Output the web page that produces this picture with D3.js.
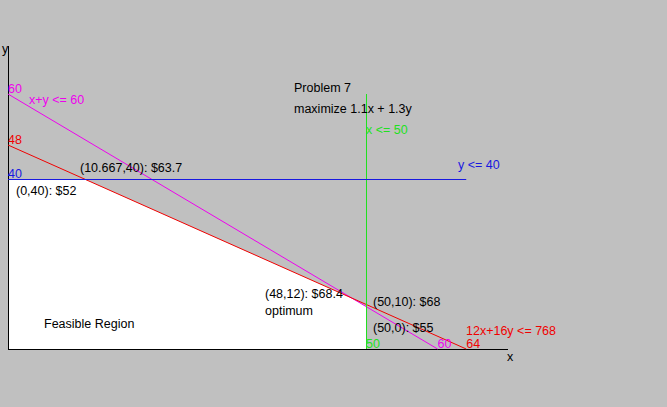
<!DOCTYPE html>
<html><head><meta charset="utf-8">
<script src="https://cdn.jsdelivr.net/npm/d3@7"></script>
<style>
html,body{margin:0;padding:0;background:#c0c0c0;}
svg{display:block;}
text{font-family:"Liberation Sans",Arial,sans-serif;font-size:12.5px;}
</style></head>
<body>
<script>
// Constraint lines: endpoints in data units
const constraintNames = ["x+y <= 60", "12x+16y <= 768", "x <= 50", "y <= 40"];
const constraintColors = ["#ee00ee", "#f00000", "#20e020", "#1818e0"];
const constraintStart = [[0, 60], [0, 48], [50, 0], [0, 40]];
const constraintEnd = [[60, 0], [64, 0], [50, 60], [64, 40]];
// Feasible region vertices
const feasibleVertices = [[0, 0], [0, 40], [10.667, 40], [48, 12], [50, 10], [50, 0]];
// Corner point labels
const cornerLabels = ["(0,40): $52", "(10.667,40): $63.7", "(48,12): $68.4", "(50,10): $68", "(50,0): $55"];
// Axis intercept tick labels
const yInterceptVals = [60, 48, 40];
const yInterceptColors = ["#ee00ee", "#f00000", "#1818e0"];
const xInterceptVals = [50, 60, 64];
const xInterceptColors = ["#20e020", "#ee00ee", "#f00000"];
const title = "Problem 7";
const objective = "maximize 1.1x + 1.3y";

const W = 667, H = 407;
const svg = d3.select("body").append("svg").attr("width", W).attr("height", H);
svg.append("rect").attr("width", W).attr("height", H).attr("fill", "#c0c0c0");

const x = d3.scaleLinear().domain([0, 50]).range([8, 366]);
const y = d3.scaleLinear().domain([0, 40]).range([349, 179]);

// feasible region
svg.append("path")
  .attr("d", d3.line().x(d => x(d[0])).y(d => y(d[1]))(feasibleVertices) + "Z")
  .attr("fill", "#ffffff");

// axes
svg.append("line").attr("x1", x(0) + 0.5).attr("x2", x(0) + 0.5).attr("y1", 46).attr("y2", y(0))
  .attr("stroke", "#000").attr("stroke-width", 1);
svg.append("line").attr("x1", x(0)).attr("x2", 508).attr("y1", y(0) + 0.5).attr("y2", y(0) + 0.5)
  .attr("stroke", "#000").attr("stroke-width", 1);
svg.append("text").attr("x", 2).attr("y", 53).text("y");
svg.append("text").attr("x", 507).attr("y", 361).text("x");

// constraint lines
constraintNames.forEach((n, i) => {
  const a = constraintStart[i], b = constraintEnd[i];
  const vx = a[0] === b[0] ? 0.5 : 0, hy = a[1] === b[1] ? 0.5 : 0;
  svg.append("line")
    .attr("x1", x(a[0]) + vx).attr("y1", y(a[1]) + hy)
    .attr("x2", x(b[0]) + vx).attr("y2", y(b[1]) + hy)
    .attr("stroke", constraintColors[i]).attr("stroke-width", 1);
});

// constraint labels
const constraintLabelPos = [[29, 104], [466, 335], [366, 134], [458, 169]];
constraintNames.forEach((n, i) => {
  svg.append("text").attr("x", constraintLabelPos[i][0]).attr("y", constraintLabelPos[i][1])
    .attr("fill", constraintColors[i]).text(n);
});

// intercept labels
yInterceptVals.forEach((v, i) => {
  svg.append("text").attr("x", x(0)).attr("y", y(v) - 1).attr("fill", yInterceptColors[i]).text(v);
});
xInterceptVals.forEach((v, i) => {
  svg.append("text").attr("x", x(v)).attr("y", y(0) - 1).attr("fill", xInterceptColors[i]).text(v);
});

// corner labels
const cornerPos = [[16, 195], [80, 172], [265, 298], [373, 306], [373, 332]];
cornerLabels.forEach((t, i) => {
  svg.append("text").attr("x", cornerPos[i][0]).attr("y", cornerPos[i][1]).attr("fill", "#000").text(t);
});
svg.append("text").attr("x", 265).attr("y", 315).text("optimum");
svg.append("text").attr("x", 44).attr("y", 328).text("Feasible Region");
svg.append("text").attr("x", 294).attr("y", 92).text(title);
svg.append("text").attr("x", 294).attr("y", 113).text(objective);
</script>
</body></html>
